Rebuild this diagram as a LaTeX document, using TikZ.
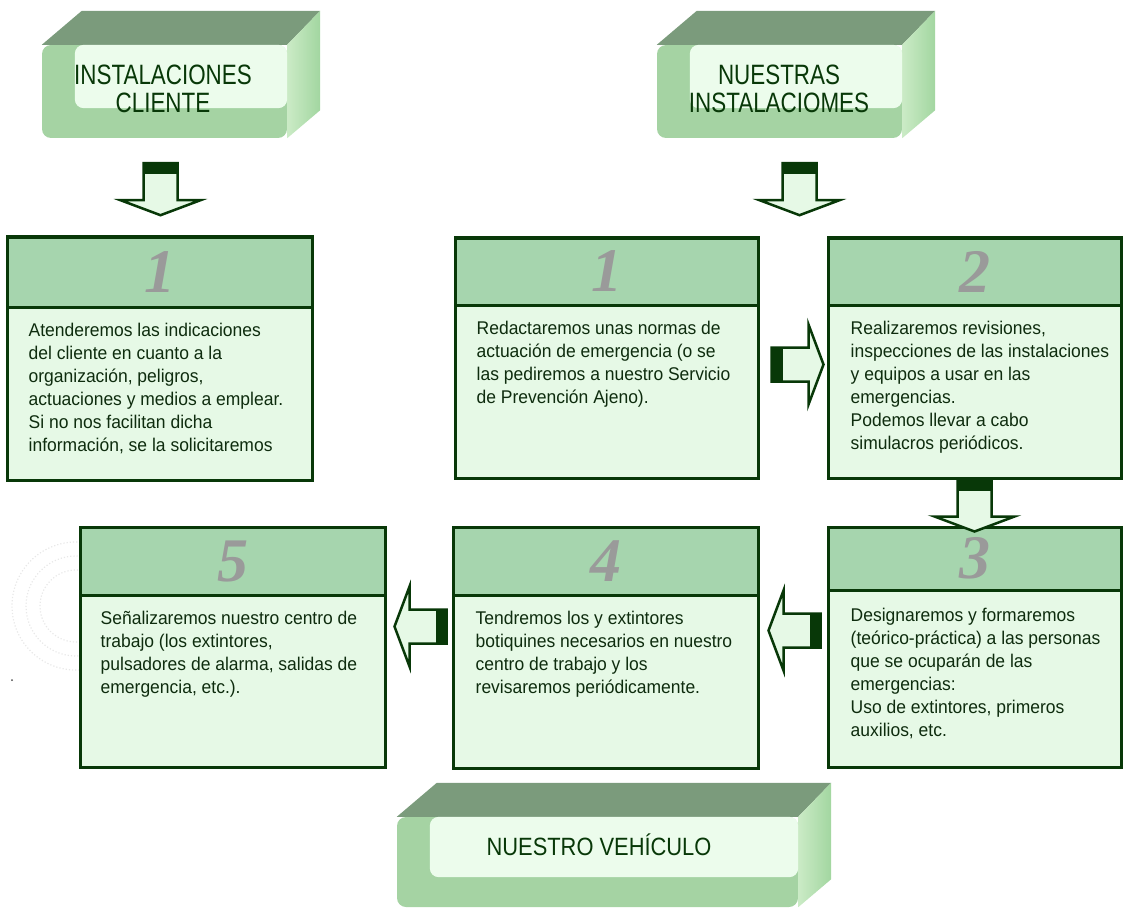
\documentclass[tikz,border=0pt]{standalone}
\usepackage{fontspec}
\setmainfont{Liberation Sans}
\newfontfamily\bodyfont[FakeStretch=0.95]{Liberation Sans}
\newfontfamily\titlefont[FakeStretch=0.8]{Liberation Sans}
\newfontfamily\vehiclefont[FakeStretch=0.875]{Liberation Sans}
\newfontfamily\digitfont{Liberation Serif}
\usetikzlibrary{calc}

\definecolor{edge}{HTML}{083808}
\definecolor{stephead}{HTML}{A6D5AE}
\definecolor{stepbody}{HTML}{E6F9E6}
\definecolor{ink}{HTML}{0E2C0E}
\definecolor{topface}{HTML}{7B9B7C}
\definecolor{sidelight}{HTML}{CBEBC6}
\definecolor{sidedark}{HTML}{A2D6A0}
\definecolor{frontface}{HTML}{A5D3A3}
\definecolor{frontlight}{HTML}{ECFCEC}
\definecolor{digitgray}{HTML}{9A9A9A}

\tikzset{
  blockarrow/.pic={
    \filldraw[fill=stepbody,draw=edge,line width=2.5pt,line join=miter]
      (0,-17) -- (37,-17) -- (37,-40) -- (52,0) -- (37,40) -- (37,17) -- (0,17) -- cycle;
    \fill[edge] (0,-17) rectangle (11,17);
  }
}

\begin{document}
\begin{tikzpicture}[x=1pt,y=-1pt,
  frontbox/.style={rectangle,fill=frontface,rounded corners=9pt,inner sep=0},
  titletext/.style={text=edge,inner sep=0,align=center,font=\titlefont\fontsize{28}{28}\selectfont},
  headbox/.style={draw=edge,line width=3pt,fill=stephead,rectangle,inner sep=0},
  bodybox/.style={draw=edge,line width=3pt,fill=stepbody,rectangle,inner sep=0},
  steptext/.style={anchor=north west,align=left,inner sep=0,text=ink,font=\bodyfont\fontsize{18.4}{23}\selectfont},
  digit/.style={text=digitgray,inner sep=0,font=\digitfont\fontsize{62}{62}\selectfont\bfseries\itshape}]
\useasboundingbox (0,0) rectangle (1123,909);

\foreach \r in {36,50,64} {
  \draw[gray!18,dotted,line width=1.2pt] (76,606) circle (\r pt);
}
\fill[black!70] (12,680) circle (1pt);

\foreach \n/\x/\y/\w/\h in {IC/164.5/91.5/245/93, NI/779.5/91.5/245/93, NV/597.5/862/401/90} {
  \node[frontbox,minimum width=\w pt,minimum height=\h pt] (\n) at (\x,\y) {};
  \fill[topface] (\n.north west) -- ++(40,-34) -- ([shift={(33,-34)}]\n.north east) -- (\n.north east) -- cycle;
  \shade[left color=sidelight,right color=sidedark] (\n.north east) -- ++(33,-34) -- ([shift={(33,-28)}]\n.south east) -- (\n.south east) -- cycle;
  \fill[frontlight,rounded corners=9pt] ([xshift=33pt]\n.north west) rectangle ([shift={(0,-30)}]\n.south east);
}

\node[titletext] (TIC) at (163,89) {INSTALACIONES\\CLIENTE};
\node[titletext] (TNI) at (779,89) {NUESTRAS\\INSTALACIOMES};
\node[titletext,font=\vehiclefont\fontsize{25}{25}\selectfont] (TNV) at (599,845) {NUESTRO VEHÍCULO};

\node[headbox,minimum width=305pt,minimum height=70pt] (HA) at (159.5,272) {};
\node[bodybox,minimum width=305pt,minimum height=173pt] (BA) at (159.5,393.5) {};
\node[headbox,minimum width=303pt,minimum height=67pt] (HB) at (606.5,271.5) {};
\node[bodybox,minimum width=303pt,minimum height=173pt] (BB) at (606.5,391.5) {};
\node[headbox,minimum width=293pt,minimum height=67pt] (HC) at (974.5,271.5) {};
\node[bodybox,minimum width=293pt,minimum height=173pt] (BC) at (974.5,391.5) {};
\node[headbox,minimum width=293pt,minimum height=63pt] (HD) at (974.5,558.5) {};
\node[bodybox,minimum width=293pt,minimum height=177pt] (BD) at (974.5,678.5) {};
\node[headbox,minimum width=305pt,minimum height=68pt] (HE) at (605.5,561) {};
\node[bodybox,minimum width=305pt,minimum height=173pt] (BE) at (605.5,681.5) {};
\node[headbox,minimum width=305pt,minimum height=68pt] (HF) at (232.5,561) {};
\node[bodybox,minimum width=305pt,minimum height=172pt] (BF) at (232.5,681) {};

\foreach \b/\d in {A/1,B/1,C/2,D/3,E/4,F/5} {
  \node[digit] (N\b) at (H\b) {\d};
}

\node[steptext] (TA) at ([shift={(23,17)}]BA.north west) {Atenderemos las indicaciones\\del cliente en cuanto a la\\organización, peligros,\\actuaciones y medios a emplear.\\Si no nos facilitan dicha\\información, se la solicitaremos};
\node[steptext] (TB) at ([shift={(23,17)}]BB.north west) {Redactaremos unas normas de\\actuación de emergencia (o se\\las pediremos a nuestro Servicio\\de Prevención Ajeno).};
\node[steptext] (TC) at ([shift={(24,17)}]BC.north west) {Realizaremos revisiones,\\inspecciones de las instalaciones\\y equipos a usar en las\\emergencias.\\Podemos llevar a cabo\\simulacros periódicos.};
\node[steptext] (TD) at ([shift={(24,19)}]BD.north west) {Designaremos y formaremos\\(teórico-práctica) a las personas\\que se ocuparán de las\\emergencias:\\Uso de extintores, primeros\\auxilios, etc.};
\node[steptext] (TE) at ([shift={(24,17)}]BE.north west) {Tendremos los y extintores\\botiquines necesarios en nuestro\\centro de trabajo y los\\revisaremos periódicamente.};
\node[steptext] (TF) at ([shift={(22,17)}]BF.north west) {Señalizaremos nuestro centro de\\trabajo (los extintores,\\pulsadores de alarma, salidas de\\emergencia, etc.).};

\pic[rotate=-90] (AR1) at ([shift={(-4,25)}]IC.south) {blockarrow};
\pic[rotate=-90] (AR2) at ([shift={(20,25)}]NI.south) {blockarrow};
\pic (AR3) at ([shift={(12,-27)}]BB.east) {blockarrow};
\pic[rotate=-90] (AR4) at (BC.south) {blockarrow};
\pic[rotate=180] (AR5) at ([shift={(-6,-48)}]BD.west) {blockarrow};
\pic[rotate=180] (AR6) at ([shift={(-5,-55)}]BE.west) {blockarrow};
\end{tikzpicture}
\end{document}
